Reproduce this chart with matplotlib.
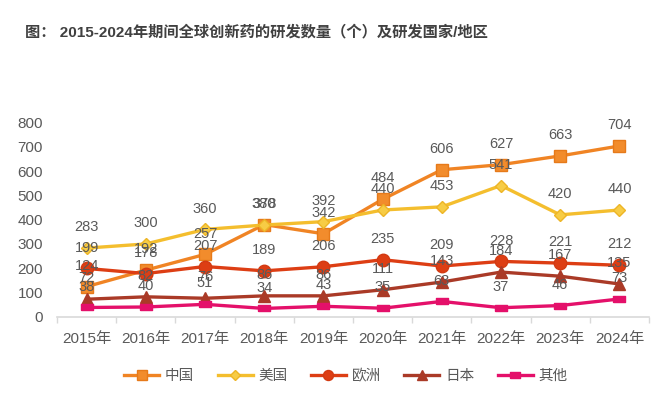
import numpy as np
import matplotlib
matplotlib.use("Agg")
import matplotlib.pyplot as plt

plt.rcParams['font.family'] = ['Liberation Sans', 'Noto Sans CJK SC', 'DejaVu Sans']

years = ['2015年', '2016年', '2017年', '2018年', '2019年',
         '2020年', '2021年', '2022年', '2023年', '2024年']
china = [124, 192, 257, 380, 342, 484, 606, 627, 663, 704]
usa = [283, 300, 360, 378, 392, 440, 453, 541, 420, 440]
europe = [199, 178, 207, 189, 206, 235, 209, 228, 221, 212]
japan = [72, 82, 76, 86, 86, 111, 143, 184, 167, 135]
other = [38, 40, 51, 34, 43, 35, 63, 37, 46, 73]

series_names = ['中国', '美国', '欧洲', '日本', '其他']
title = '图： 2015-2024年期间全球创新药的研发数量（个）及研发国家/地区'

text_gray = '#595959'
rect = [(-1, -0.55), (1, -0.55), (1, 0.55), (-1, 0.55), (-1, -0.55)]

styles = [
    dict(color='#F08424', marker='s', ms=8.5, mfc='#F28C2C', mec='#E67A1A'),
    dict(color='#F4BE2E', marker='D', ms=6.5, mfc='#F7CC45', mec='#EDB526'),
    dict(color='#DD3E14', marker='o', ms=9, mfc='#DD3E14', mec='#D33A12'),
    dict(color='#AA3A27', marker='^', ms=8.5, mfc='#AA3A27', mec='#AA3A27'),
    dict(color='#E4106A', marker=rect, ms=9, mfc='#E4106A', mec='#E4106A'),
]

fig = plt.figure(figsize=(6.57, 3.96), dpi=100)
ax = fig.add_axes([57 / 657, 1 - 316.7 / 396, 592 / 657, 194 / 396])

x = np.arange(len(years))
handles = []
for vals, name, st in zip([china, usa, europe, japan, other], series_names, styles):
    h, = ax.plot(x, vals, lw=2.4, label=name, zorder=3, **st)
    handles.append(h)
    for xi, v in zip(x, vals):
        ax.annotate(str(v), (xi, v), xytext=(0, 15), textcoords='offset points',
                    ha='center', va='center', fontsize=10.5, color=text_gray, zorder=4)

ax.set_xlim(-0.5, len(years) - 0.5)
ax.set_ylim(0, 800)
ax.set_yticks(range(0, 801, 100))
ax.set_xticks(x)
ax.set_xticklabels(years)
ax.set_xticks(np.arange(-0.5, len(years), 1), minor=True)
ax.tick_params(axis='x', which='major', length=0, pad=11, labelsize=11, labelcolor=text_gray)
ax.tick_params(axis='x', which='minor', length=4, width=1, color='#D9D9D9', direction='out')
ax.tick_params(axis='y', length=0, pad=10, labelsize=11, labelcolor=text_gray)

for s in ['top', 'right', 'left']:
    ax.spines[s].set_visible(False)
ax.spines['bottom'].set_color('#D9D9D9')
ax.spines['bottom'].set_linewidth(1.2)

fig.text(25 / 657, 1 - 32 / 396, title, fontsize=11, fontweight='bold',
         color='#404040', va='center', ha='left')

fig.legend(handles=handles, loc='center', bbox_to_anchor=(346 / 657, 1 - 376 / 396),
           ncol=5, frameon=False, fontsize=10.5, labelcolor=text_gray,
           handlelength=2.4, columnspacing=1.6, handletextpad=0.4, markerscale=0.8)

fig.savefig('out.png', dpi=100, facecolor='white')
